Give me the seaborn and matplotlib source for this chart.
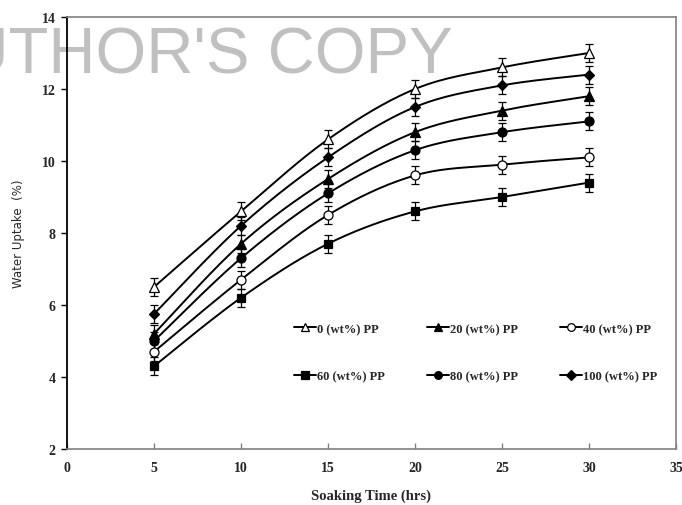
import numpy as np
import pandas as pd
import matplotlib
matplotlib.use("Agg")
import matplotlib.pyplot as plt
from matplotlib.lines import Line2D
import seaborn as sns

# Soaking times (hrs)
hours = [5, 10, 15, 20, 25, 30]

# Water uptake (%) for each PP content
pp0 = [6.5, 8.6, 10.6, 12.0, 12.6, 13.0]
pp20 = [5.2, 7.7, 9.5, 10.8, 11.4, 11.8]
pp40 = [4.7, 6.7, 8.5, 9.6, 9.9, 10.1]
pp60 = [4.3, 6.2, 7.7, 8.6, 9.0, 9.4]
pp80 = [5.0, 7.3, 9.1, 10.3, 10.8, 11.1]
pp100 = [5.75, 8.2, 10.1, 11.5, 12.1, 12.4]

# Standard deviation shown as error bars
err = 0.25

labels = ["0 (wt%) PP", "20 (wt%) PP", "40 (wt%) PP",
          "60 (wt%) PP", "80 (wt%) PP", "100 (wt%) PP"]
series = [pp0, pp20, pp40, pp60, pp80, pp100]
markers = ["^", "^", "o", "s", "o", "D"]
filled = [False, True, False, True, True, True]
msizes = [6.5, 6.5, 6.5, 6.0, 6.5, 5.5]

x_ticks = [0, 5, 10, 15, 20, 25, 30, 35]
y_ticks = [2, 4, 6, 8, 10, 12, 14]


def smooth_path(x, y, n=30):
    """Bezier smoothing through the points (spreadsheet style smoothed line)."""
    x = np.asarray(x, float)
    y = np.asarray(y, float)
    px, py = [], []
    m = len(x)
    for i in range(m - 1):
        x0, y0 = (x[i - 1], y[i - 1]) if i > 0 else (x[i], y[i])
        x3, y3 = (x[i + 2], y[i + 2]) if i + 2 < m else (x[i + 1], y[i + 1])
        c1x = x[i] + (x[i + 1] - x0) / 6.0
        c1y = y[i] + (y[i + 1] - y0) / 6.0
        c2x = x[i + 1] - (x3 - x[i]) / 6.0
        c2y = y[i + 1] - (y3 - y[i]) / 6.0
        t = np.linspace(0, 1, n)
        bx = ((1 - t) ** 3 * x[i] + 3 * (1 - t) ** 2 * t * c1x
              + 3 * (1 - t) * t ** 2 * c2x + t ** 3 * x[i + 1])
        by = ((1 - t) ** 3 * y[i] + 3 * (1 - t) ** 2 * t * c1y
              + 3 * (1 - t) * t ** 2 * c2y + t ** 3 * y[i + 1])
        px.extend(bx)
        py.extend(by)
    return np.array(px), np.array(py)


sns.set_style("white")
plt.rcParams["font.family"] = ["Liberation Serif", "DejaVu Serif"]

fig = plt.figure(figsize=(6.82, 5.06), dpi=100)
ax = fig.add_axes([0.0982, 0.1107, 0.893, 0.8537])
ax.patch.set_alpha(0.0)

handles = []
for lab, vals, mk, fl, ms in zip(labels, series, markers, filled, msizes):
    sx, sy = smooth_path(hours, vals)
    curve = pd.DataFrame({"t": sx, "w": sy})
    sns.lineplot(data=curve, x="t", y="w", ax=ax, color="black",
                 linewidth=1.4, sort=False, estimator=None, zorder=2)
    face = "black" if fl else "white"
    ax.errorbar(hours, vals, yerr=err, fmt=mk, ms=ms, mfc=face, mec="black",
                mew=0.9, ecolor="black", elinewidth=0.9, capsize=3,
                capthick=0.9, zorder=3)
    handles.append(Line2D([], [], color="black", lw=1.4, marker=mk,
                          ms=ms * 0.85, mfc=face, mec="black", mew=0.9))

ax.set_xlim(0, 35)
ax.set_ylim(2, 14)
ax.set_xticks(x_ticks)
ax.set_yticks(y_ticks)
ax.tick_params(axis="y", direction="out", length=4, width=1, color="black",
               left=True, labelsize=10, pad=4)
ax.tick_params(axis="x", direction="in", length=4, width=1, color="#808080",
               bottom=True, labelsize=10, pad=9)
for lbl in ax.get_xticklabels() + ax.get_yticklabels():
    lbl.set_fontweight("bold")

for side in ["top", "right", "bottom"]:
    ax.spines[side].set_color("#808080")
    ax.spines[side].set_linewidth(1.2)
ax.spines["left"].set_color("black")
ax.spines["left"].set_linewidth(1.3)

ax.set_xlabel("Soaking Time (hrs)", fontsize=10.5, fontweight="bold",
              labelpad=10)
ax.set_ylabel("Water Uptake  (%)", fontsize=8.5, family="DejaVu Sans",
              labelpad=12)

# legend: three columns, two rows
order = [0, 3, 1, 4, 2, 5]
leg = ax.legend([handles[i] for i in order], [labels[i] for i in order],
                ncol=3, frameon=False, loc="upper left",
                bbox_to_anchor=(0.355, 0.318), handlelength=1.7,
                handletextpad=0.1, columnspacing=3.4, labelspacing=2.85,
                prop={"family": "Liberation Serif", "weight": "bold",
                      "size": 9})

# watermark, sitting behind the axes lines
fig.text(453 / 682, 1 - 73 / 506, "AUTHOR'S COPY", ha="right",
         va="baseline", color="#c0c0c0", fontsize=47,
         family="Liberation Sans", zorder=-1)

fig.savefig("out.png", dpi=100)
